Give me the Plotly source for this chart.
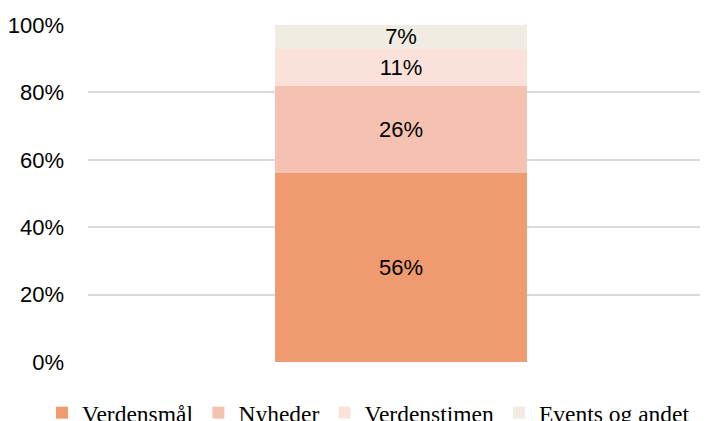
import plotly.graph_objects as go

categories = ["Total"]
series_names = ["Verdensmål", "Nyheder", "Verdenstimen", "Events og andet"]
series_values = [[56], [26], [11], [7]]
series_colors = ["#F09A70", "#F5C2B1", "#FAE2DB", "#F0ECE2"]
tick_vals = [0, 20, 40, 60, 80, 100]
tick_text = ["0%", "20%", "40%", "60%", "80%", "100%"]

fig = go.Figure()
for name, vals, col in zip(series_names, series_values, series_colors):
    fig.add_trace(go.Bar(
        x=categories, y=vals, name=name,
        marker=dict(color=col, line=dict(width=0)),
        text=[f"{v}%" for v in vals], textposition="inside",
        insidetextanchor="middle", constraintext="none",
        textfont=dict(family="Liberation Sans, Arial", size=22, color="#000000"),
        hoverinfo="skip",
    ))

fig.update_layout(
    barmode="stack",
    width=700, height=430,
    margin=dict(l=80, r=2, t=17, b=76),
    paper_bgcolor="white", plot_bgcolor="white",
    bargap=0.592,
    showlegend=True,
    legend=dict(orientation="h", x=-0.0744, xanchor="left", xref="paper",
                y=-0.151, yanchor="middle", yref="paper",
                font=dict(family="Liberation Serif, Times New Roman", size=23.5, color="#000000"),
                itemwidth=30, tracegroupgap=0, traceorder="normal"),
    xaxis=dict(showticklabels=False, showgrid=False, zeroline=False, showline=False,
               range=[-0.5065, 0.4935], automargin=False),
    yaxis=dict(range=[0, 100], tickvals=tick_vals, ticktext=tick_text,
               showgrid=True, gridcolor="#D9D9D9", gridwidth=1.5, zeroline=False,
               ticklabelstandoff=23, automargin=False,
               tickfont=dict(family="Liberation Sans, Arial", size=22, color="#000000")),
)
fig.write_html("out.html")
